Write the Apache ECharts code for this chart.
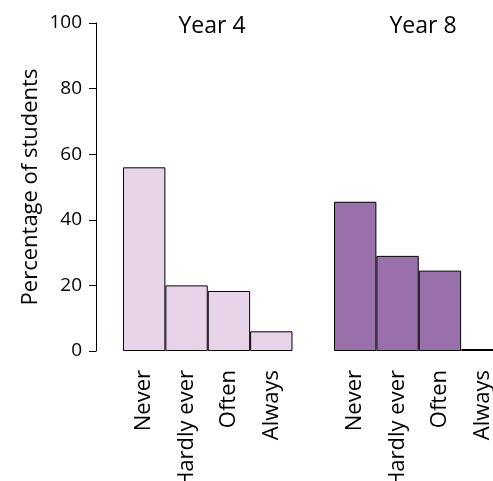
<!DOCTYPE html>
<html><head><meta charset="utf-8">
<script src="https://cdn.jsdelivr.net/npm/echarts@6/dist/echarts.min.js"></script>
<style>html,body{margin:0;padding:0;background:#fff}#c{width:493px;height:481px}</style>
</head><body><div id="c"></div>
<script>
const categories = ['Never', 'Hardly ever', 'Often', 'Always'];
const year4 = [56, 20, 18.3, 6];
const year8 = [45.5, 29, 24.5, 0.6];
const panelTitles = ['Year 4', 'Year 8'];
const yTicks = [0, 20, 40, 60, 80, 100];
const yName = 'Percentage of students';

const FONT = 'Open Sans';
const chart = echarts.init(document.getElementById('c'));
const xAx = (gi) => ({
  type: 'category', gridIndex: gi, data: categories,
  axisLine: {show: false}, axisTick: {show: false},
  axisLabel: {rotate: 90, margin: 19, fontFamily: FONT, fontSize: 22, color: '#000', interval: 0}
});
chart.setOption({
  animation: false,
  title: [
    {text: panelTitles[0], left: 207, top: 10, textAlign: 'center', textStyle: {fontFamily: FONT, fontSize: 23, fontWeight: 'normal', color: '#000'}},
    {text: panelTitles[1], left: 418, top: 10, textAlign: 'center', textStyle: {fontFamily: FONT, fontSize: 23, fontWeight: 'normal', color: '#000'}}
  ],
  grid: [
    {left: 123, top: 23, width: 169.5, height: 328, containLabel: false, outerBoundsMode: 'none'},
    {left: 334, top: 23, width: 169.5, height: 328, containLabel: false, outerBoundsMode: 'none'}
  ],
  xAxis: [xAx(0), xAx(1)],
  yAxis: [
    {type: 'value', gridIndex: 0, min: yTicks[0], max: yTicks[yTicks.length-1], interval: 20, offset: 27,
     axisLine: {show: true, lineStyle: {color: '#000', width: 1}},
     axisTick: {show: true, length: 7, lineStyle: {color: '#000'}},
     splitLine: {show: false},
     axisLabel: {margin: 14, fontFamily: FONT, fontSize: 19, color: '#000'},
     name: yName, nameLocation: 'middle', nameGap: 54, nameRotate: 90,
     nameTextStyle: {fontFamily: FONT, fontSize: 22, color: '#000'}},
    {type: 'value', gridIndex: 1, min: 0, max: 100, show: false}
  ],
  series: [
    {type: 'bar', xAxisIndex: 0, yAxisIndex: 0, data: year4, barCategoryGap: '0%',
     itemStyle: {color: '#E7D4E8', borderColor: '#000', borderWidth: 1}},
    {type: 'bar', xAxisIndex: 1, yAxisIndex: 1, data: year8, barCategoryGap: '0%',
     itemStyle: {color: '#9970AB', borderColor: '#000', borderWidth: 1}}
  ]
});
</script></body></html>
